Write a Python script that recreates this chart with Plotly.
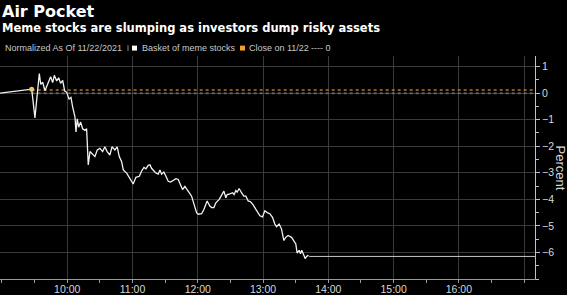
import plotly.graph_objects as go

# ---- data ----
times = ["08:58:12", "09:27:18", "09:30:18", "09:32:24", "09:34:18", "09:35:36", "09:37:24", "09:39:30",
         "09:42:30", "09:44:42", "09:46:36", "09:48:06", "09:50:18", "09:52:06", "09:53:54", "09:55:48",
         "09:57:36", "09:59:24", "10:01:36", "10:03:24", "10:05:00", "10:07:06", "10:08:00", "10:09:12",
         "10:10:30", "10:12:18", "10:14:06", "10:16:18", "10:17:48", "10:19:18", "10:20:54", "10:23:18",
         "10:25:24", "10:27:36", "10:30:00", "10:32:30", "10:34:36", "10:36:42", "10:39:12", "10:41:06",
         "10:43:48", "10:45:54", "10:47:48", "10:50:00", "10:51:30", "10:54:36", "10:57:36", "11:00:36",
         "11:03:06", "11:06:12", "11:08:24", "11:10:30", "11:12:18", "11:14:24", "11:16:00", "11:17:30",
         "11:19:42", "11:21:30", "11:23:36", "11:25:12", "11:26:42", "11:28:48", "11:30:42", "11:32:48",
         "11:35:00", "11:37:24", "11:39:54", "11:42:00", "11:44:12", "11:46:00", "11:48:06", "11:49:42",
         "11:52:06", "11:54:18", "11:56:24", "11:58:54", "12:00:24", "12:03:30", "12:05:36", "12:08:36",
         "12:11:06", "12:12:42", "12:14:48", "12:16:36", "12:19:42", "12:21:54", "12:24:00", "12:25:48",
         "12:27:00", "12:29:30", "12:32:00", "12:33:24", "12:35:00", "12:36:12", "12:38:00", "12:40:12",
         "12:42:18", "12:44:12", "12:46:18", "12:48:30", "12:50:54", "12:53:24", "12:55:30", "12:57:06",
         "12:59:30", "13:01:36", "13:03:48", "13:06:12", "13:08:42", "13:10:48", "13:12:24", "13:14:48",
         "13:17:00", "13:19:06", "13:20:54", "13:23:00", "13:26:12", "13:28:18", "13:30:06", "13:31:18",
         "13:33:12", "13:34:24", "13:35:36", "13:37:30", "13:38:42", "13:40:00", "13:41:24"]
basket = [0.00, 0.15, -0.93, -0.10, 0.74, 0.33, 0.41, 0.09,
          0.40, 0.62, 0.40, 0.67, 0.46, 0.58, 0.37, 0.48,
          0.09, 0.03, -0.22, -0.16, -0.53, -0.90, -1.46, -0.97,
          -1.28, -1.09, -1.34, -1.40, -1.34, -2.70, -2.20, -2.30,
          -2.39, -2.14, -2.08, -2.20, -2.02, -2.20, -2.33, -2.02,
          -2.14, -2.02, -2.39, -2.58, -2.89, -3.01, -3.20, -3.42,
          -3.17, -3.13, -2.93, -2.80, -2.85, -2.72, -2.70, -2.83,
          -2.93, -3.01, -3.05, -2.89, -3.05, -2.97, -3.13, -3.32,
          -3.35, -3.30, -3.22, -3.25, -3.45, -3.63, -3.51, -3.59,
          -3.75, -3.88, -4.13, -4.50, -4.56, -4.54, -4.38, -4.06,
          -4.25, -4.31, -4.31, -4.13, -4.00, -3.82, -3.69, -3.94,
          -3.82, -3.79, -3.75, -3.82, -3.67, -3.73, -3.59, -3.75,
          -3.88, -3.88, -4.06, -4.09, -4.21, -4.38, -4.50, -4.62,
          -4.66, -4.43, -4.50, -4.54, -4.68, -4.93, -5.03, -4.93,
          -5.12, -5.55, -5.43, -5.36, -5.43, -5.55, -5.68, -6.02,
          -5.92, -6.05, -5.92, -6.11, -6.23, -6.15, -6.11]
carry_times = ["13:41:24", "13:42:30", "17:15:00"]
carry_values = [-6.11, -6.15, -6.15]
close_time = "09:27:18"
close_value = 0.12
close_line_times = ["09:27:18", "17:15:00"]
zero_line_times = ["09:27:18", "17:15:00"]
x_tick_times = ["10:00", "11:00", "12:00", "13:00", "14:00", "15:00", "16:00", "17:00"]
x_tick_text = ["10:00", "11:00", "12:00", "13:00", "14:00", "15:00", "16:00", ""]
y_ticks = [1, 0, -1, -2, -3, -4, -5, -6]
date = "2021-11-23 "

title = "Air Pocket"
subtitle = "Meme stocks are slumping as investors dump risky assets"
legend_note = "Normalized As Of 11/22/2021"
series_names = ["Basket of meme stocks", "Close on 11/22", "---- 0"]

# ---- layout geometry (pixels) ----
W, H = 567, 295
L, R, T, B = 0, 535, 56, 282


def px(x):
    return (x - L) / (R - L)


def py(y):
    return (B - y) / (B - T)


def d(ts):
    return [date + t for t in ts]


fig = go.Figure()
fig.add_trace(go.Scatter(x=d(zero_line_times), y=[0, 0], mode="lines",
                         line=dict(color="rgba(150,150,150,0.55)", width=2, dash="dot"),
                         hoverinfo="skip", showlegend=False))
fig.add_trace(go.Scatter(x=d(close_line_times), y=[close_value, close_value], mode="lines",
                         line=dict(color="rgba(215,150,60,0.6)", width=2, dash="dot"),
                         hoverinfo="skip", showlegend=False))
fig.add_trace(go.Scatter(x=d(carry_times), y=carry_values, mode="lines",
                         line=dict(color="#c8c8c8", width=1), hoverinfo="skip", showlegend=False))
fig.add_trace(go.Scatter(x=d(times), y=basket, mode="lines",
                         line=dict(color="#f2f2f2", width=1.3), showlegend=False))
fig.add_trace(go.Scatter(x=d([close_time]), y=[close_value + 0.03], mode="markers",
                         marker=dict(color="#e8c46a", size=5), showlegend=False))

grid = "#3a3a3a"
tickfont = dict(family="Liberation Sans, Arial", size=10.5, color="#d8d8d8")

fig.update_xaxes(type="date", range=[date + "08:58:10", date + "17:10:00"],
                 tickvals=d(x_tick_times), ticktext=x_tick_text,
                 showgrid=True, gridcolor=grid, gridwidth=1,
                 showline=True, linecolor="#9a9a9a", linewidth=1,
                 ticks="", tickfont=tickfont,
                 minor=dict(dtick=1800000, tick0=date + "09:30", ticks="outside", ticklen=3,
                            tickcolor="#9a9a9a", showgrid=False),
                 zeroline=False, fixedrange=True)
fig.update_yaxes(side="right", range=[-7, 1.4], tickvals=y_ticks,
                 showgrid=True, gridcolor=grid, gridwidth=1,
                 showline=True, linecolor="#c0c0c0", linewidth=1,
                 ticks="outside", ticklen=4, tickcolor="#c0c0c0", tickfont=tickfont,
                 minor=dict(dtick=0.5, ticks="outside", ticklen=3, tickcolor="#c0c0c0", showgrid=False),
                 zeroline=False, fixedrange=True)

ann = []
ann.append(dict(text="<b>" + title + "</b>", x=px(1), y=py(11), xref="paper", yref="paper",
                xanchor="left", yanchor="middle", showarrow=False, borderpad=0,
                font=dict(family="DejaVu Sans", size=16, color="#ffffff")))
ann.append(dict(text="<b>" + subtitle + "</b>", x=px(1), y=py(27.5), xref="paper", yref="paper",
                xanchor="left", yanchor="middle", showarrow=False, borderpad=0,
                font=dict(family="DejaVu Sans", size=11.5, color="#ffffff")))
lf = dict(family="Liberation Sans, Arial", size=9, color="#c8c8c8")
for text, x in [(legend_note, 3), (series_names[0], 140), (series_names[1], 247), (series_names[2], 309)]:
    ann.append(dict(text=text, x=px(x), y=py(48), xref="paper", yref="paper",
                    xanchor="left", yanchor="middle", showarrow=False, font=lf))
ann.append(dict(text="Percent", x=px(560), y=py(169), xref="paper", yref="paper",
                xanchor="center", yanchor="middle", showarrow=False, textangle=90,
                font=dict(family="Liberation Sans", size=13, color="#d8d8d8")))

shapes = [
    dict(type="line", xref="paper", yref="paper", x0=px(128), x1=px(128), y0=py(45), y1=py(51),
         line=dict(color="#888888", width=1)),
    dict(type="rect", xref="paper", yref="paper", x0=px(132), x1=px(137), y0=py(50.5), y1=py(45.5),
         fillcolor="#ffffff", line=dict(width=0)),
    dict(type="rect", xref="paper", yref="paper", x0=px(240), x1=px(245), y0=py(50.5), y1=py(45.5),
         fillcolor="#f0a030", line=dict(width=0)),
]

fig.update_layout(width=W, height=H, margin=dict(l=L, r=W - R, t=T, b=H - B),
                  paper_bgcolor="#000000", plot_bgcolor="#000000",
                  annotations=ann, shapes=shapes, showlegend=False)

fig.write_html("out.html", config={"displayModeBar": False})
